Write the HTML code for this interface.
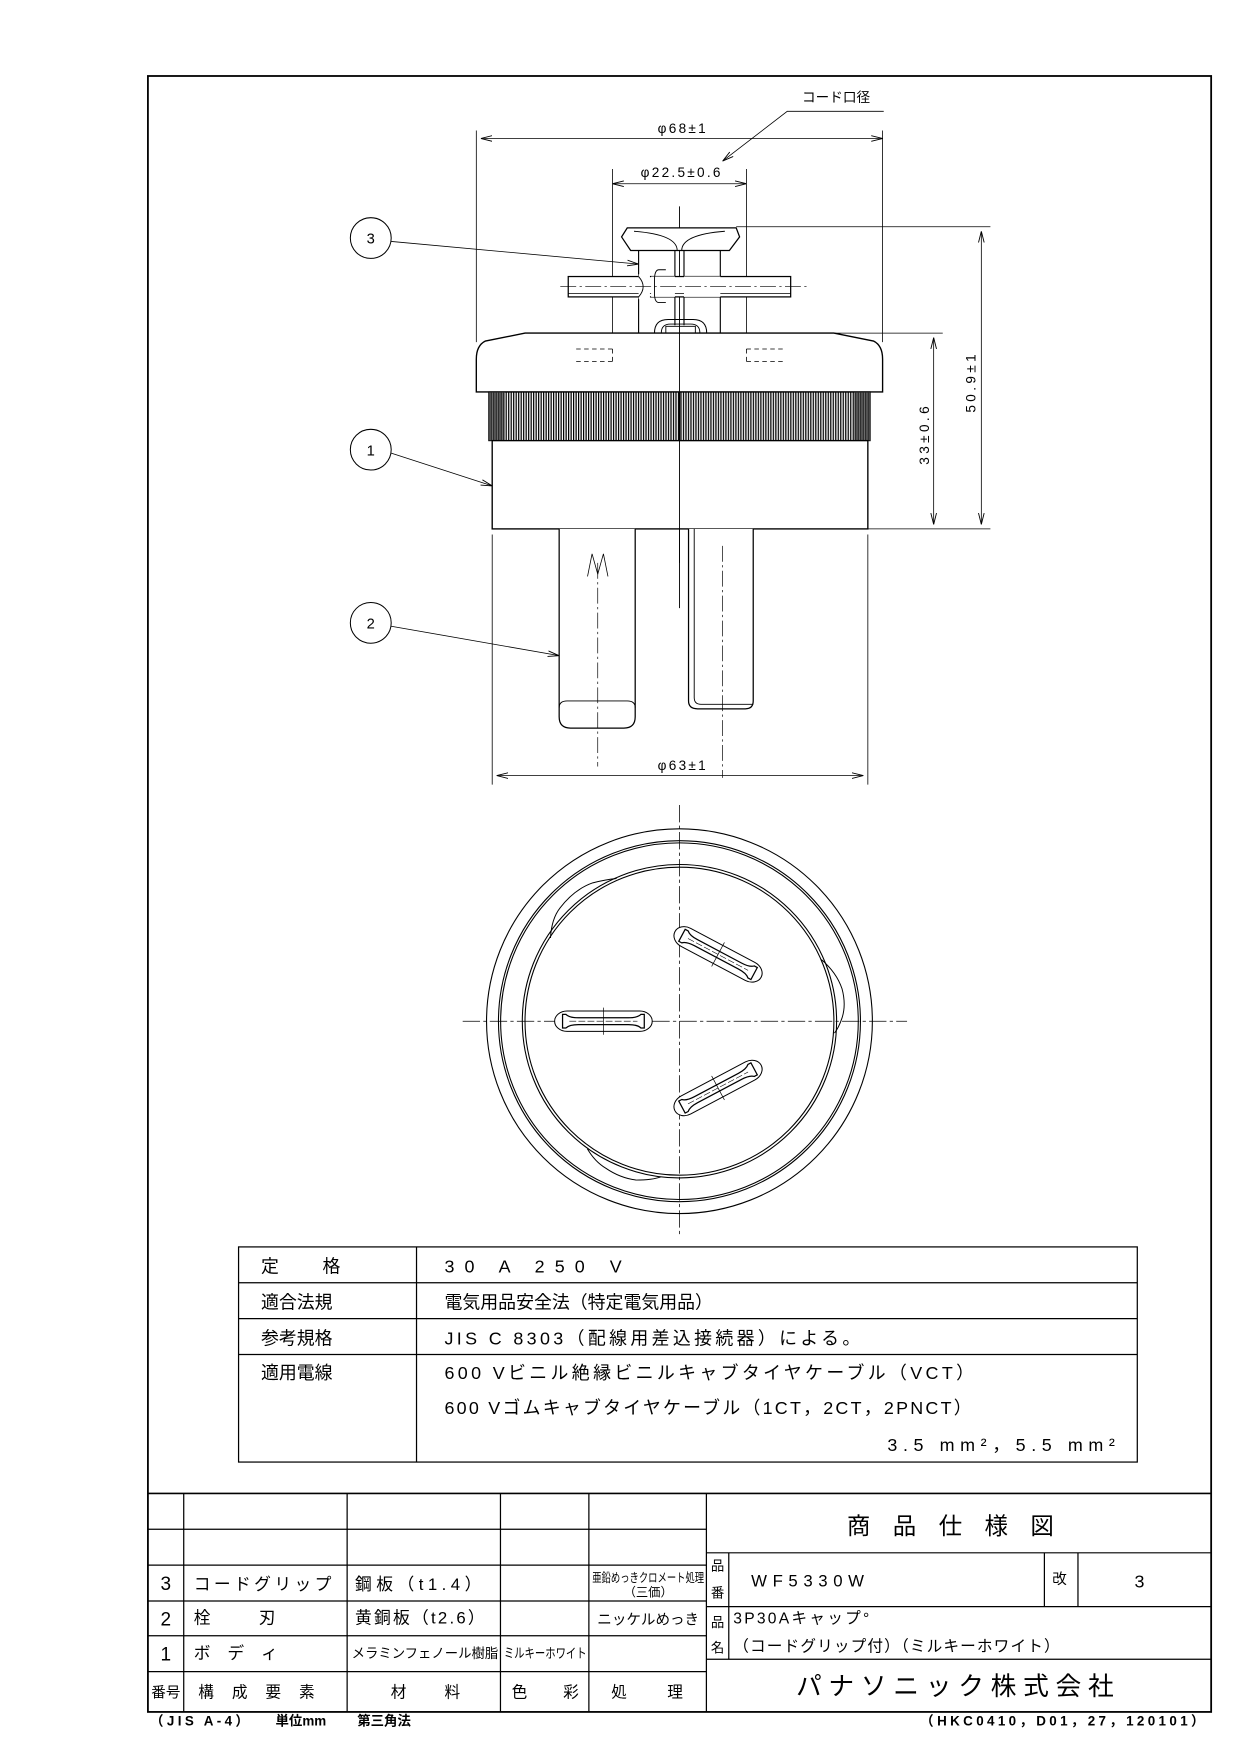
<!DOCTYPE html>
<html><head><meta charset="utf-8"><style>
html,body{margin:0;padding:0;background:#fff;}
svg{display:block}
text{font-family:"Liberation Sans","Noto Sans CJK JP",sans-serif;fill:#000}
</style></head><body>
<svg width="1241" height="1754" viewBox="0 0 1241 1754" xmlns="http://www.w3.org/2000/svg">
<defs>
<pattern id="kn" width="2.2" height="10" patternUnits="userSpaceOnUse"><rect x="0" y="0" width="1.1" height="10" fill="#000"/></pattern>
<marker id="ar" markerWidth="10" markerHeight="6" refX="10" refY="3" orient="auto" markerUnits="userSpaceOnUse"><path d="M0,0.5 L10,3 L0,5.5" fill="none" stroke="#000" stroke-width="0.8"/></marker>
<marker id="al" markerWidth="10" markerHeight="6" refX="0" refY="3" orient="auto" markerUnits="userSpaceOnUse"><path d="M10,0.5 L0,3 L10,5.5" fill="none" stroke="#000" stroke-width="0.8"/></marker>
<g id="slot" fill="none" stroke="#000">
<path d="M-32,-9 a11,9 0 0,0 0,18 L32,9 a11,9 0 0,0 0,-18 Z" fill="#fff" stroke-width="0.9"/>
<path d="M-36,-6 L-33,-6 Q-30,-3 -22,-3 L22,-3 Q30,-3 33,-6 L36,-6 L36,6 L33,6 Q30,3 22,3 L-22,3 Q-30,3 -33,6 L-36,6 Z" stroke-width="1.1"/>
<line x1="-30" y1="0" x2="30" y2="0" stroke-width="0.5" stroke-dasharray="6,2"/>
<line x1="0" y1="-12" x2="0" y2="12" stroke-width="0.6"/>
</g>
</defs>
<g transform="translate(1.3,-0.2) scale(1.1192,1.1205)" fill="none" stroke="#000" stroke-width="1">
<!-- frame -->
<rect x="131" y="68" width="950" height="1460" stroke-width="1.6"/>

<g transform="matrix(1.014 0 0 1.01 -4.5 -2.5)">
<!-- side view -->
<line x1="427" y1="125" x2="781" y2="125" stroke-width="0.7" marker-start="url(#al)" marker-end="url(#ar)"/>
<line x1="423" y1="118" x2="423" y2="305" stroke-width="0.7"/>
<line x1="781" y1="118" x2="781" y2="305" stroke-width="0.7"/>
<text x="605" y="120" font-size="12" stroke="none" text-anchor="middle" letter-spacing="2">φ68±1</text>
<text x="740" y="93" font-size="12" stroke="none" text-anchor="middle">コード口径</text>
<polyline points="782,101 697,101 640,145" stroke-width="0.7" marker-end="url(#ar)"/>
<line x1="543" y1="165" x2="661" y2="165" stroke-width="0.7" marker-start="url(#al)" marker-end="url(#ar)"/>
<line x1="543" y1="152" x2="543" y2="322" stroke-width="0.7"/>
<line x1="661" y1="152" x2="661" y2="322" stroke-width="0.7"/>
<text x="604" y="159" font-size="12" stroke="none" text-anchor="middle" letter-spacing="2">φ22.5±0.6</text>
<line x1="602" y1="185" x2="602" y2="540" stroke-width="0.8"/>
<!-- grip -->
<path d="M556,204 L652,204 L655,212 L646,224 L559,224 L551,212 Z" fill="#fff" stroke-width="1.1"/>
<path d="M562,207 Q600,210 600,224 M642,207 Q604,210 604,224" stroke-width="0.8"/>
<path d="M566,224 L566,297 M638,224 L638,297 M598,224 L598,290 M606,224 L606,290" stroke-width="1"/>
<rect x="504" y="247" width="196" height="18" fill="#fff" stroke-width="1.1"/>
<line x1="504" y1="262" x2="700" y2="262" stroke-width="0.6"/>
<rect x="566" y="245" width="10" height="22" fill="#fff" stroke="none"/>
<path d="M566,247 Q574,256 566,265 M629,247 Q625,256 629,265" stroke-width="0.8"/>
<rect x="577" y="247" width="21" height="18" fill="#fff" stroke="none"/>
<rect x="606" y="247" width="32" height="18" fill="#fff" stroke="none"/>
<path d="M590,241 L584,241 Q580,241 580,250 L580,262 Q580,270 584,270 L590,270" stroke-width="0.8"/>
<line x1="497" y1="256" x2="715" y2="256" stroke-width="0.6" stroke-dasharray="14,3,2,3"/>
<path d="M580,297 Q580,285 592,285 L614,285 Q626,285 626,297" stroke-width="0.9"/>
<path d="M586,297 Q586,289 594,289 L612,289 Q620,289 620,297" stroke-width="0.8"/>
<rect x="590" y="291" width="26" height="6" stroke-width="0.8"/>
<!-- cap -->
<path d="M466,297 L738,297 L773,304 Q781,308 781,320 L781,349 L423,349 L423,320 Q423,308 431,304 Z" fill="#fff" stroke-width="1.2"/>
<line x1="602" y1="297" x2="602" y2="349" stroke-width="0.8"/>
<g stroke-width="0.7" stroke-dasharray="4,3">
<line x1="511" y1="311" x2="543" y2="311"/><line x1="511" y1="322" x2="543" y2="322"/><line x1="543" y1="311" x2="543" y2="322"/>
<line x1="661" y1="311" x2="695" y2="311"/><line x1="661" y1="322" x2="695" y2="322"/><line x1="661" y1="311" x2="661" y2="322"/>
</g>
<!-- knurl -->
<rect x="434" y="349" width="336" height="43" fill="url(#kn)" stroke-width="1"/>
<rect x="434" y="349" width="14" height="43" fill="#333" stroke="none" opacity="0.7"/>
<rect x="756" y="349" width="14" height="43" fill="#333" stroke="none" opacity="0.7"/>
<line x1="602" y1="349" x2="602" y2="392" stroke-width="1.2"/>
<!-- body -->
<rect x="437" y="392" width="331" height="78" fill="#fff" stroke-width="1.2"/>
<line x1="602" y1="392" x2="602" y2="500" stroke-width="0.8"/>
<!-- pins -->
<path d="M496,470 L496,636 Q496,646 506,646 L553,646 Q563,646 563,636 L563,470" fill="#fff" stroke-width="1.1"/>
<path d="M496,628 Q496,622 503,622 L556,622 Q563,622 563,628" stroke-width="0.8"/>
<path d="M610,470 L610,622 Q610,629 618,629 L660,629 Q667,629 667,622 L667,470" fill="#fff" stroke-width="1.1"/>
<path d="M615,470 L615,619 Q615,625 621,625 L667,625" stroke-width="0.8"/>
<line x1="530" y1="500" x2="530" y2="680" stroke-width="0.6" stroke-dasharray="14,3,2,3"/>
<line x1="640" y1="485" x2="640" y2="690" stroke-width="0.6" stroke-dasharray="14,3,2,3"/>
<path d="M521,512 L525,492 L530,510 L535,492 L539,512" stroke-width="0.7"/>
<!-- phi63 -->
<line x1="437" y1="475" x2="437" y2="696" stroke-width="0.7"/>
<line x1="768" y1="475" x2="768" y2="696" stroke-width="0.7"/>
<line x1="441" y1="688" x2="764" y2="688" stroke-width="0.7" marker-start="url(#al)" marker-end="url(#ar)"/>
<text x="605" y="683" font-size="12" stroke="none" text-anchor="middle" letter-spacing="2">φ63±1</text>
<!-- right dims -->
<line x1="652" y1="203" x2="876" y2="203" stroke-width="0.7"/>
<line x1="738" y1="297" x2="834" y2="297" stroke-width="0.7"/>
<line x1="768" y1="470" x2="876" y2="470" stroke-width="0.7"/>
<line x1="826" y1="301" x2="826" y2="466" stroke-width="0.7" marker-start="url(#al)" marker-end="url(#ar)"/>
<line x1="868" y1="207" x2="868" y2="466" stroke-width="0.7" marker-start="url(#al)" marker-end="url(#ar)"/>
<text transform="translate(822,386) rotate(-90)" font-size="12" stroke="none" text-anchor="middle" letter-spacing="3">33±0.6</text>
<text transform="translate(863,340) rotate(-90)" font-size="12" stroke="none" text-anchor="middle" letter-spacing="3">50.9±1</text>
<!-- balloons -->
<circle cx="330" cy="213" r="18" stroke-width="0.9"/><text x="330" y="218" font-size="13" stroke="none" text-anchor="middle">3</text>
<line x1="348" y1="216" x2="566" y2="236" stroke-width="0.7" marker-end="url(#ar)"/>
<circle cx="330" cy="400" r="18" stroke-width="0.9"/><text x="330" y="405" font-size="13" stroke="none" text-anchor="middle">1</text>
<line x1="348" y1="403" x2="437" y2="432" stroke-width="0.7" marker-end="url(#ar)"/>
<circle cx="330" cy="553" r="18" stroke-width="0.9"/><text x="330" y="558" font-size="13" stroke="none" text-anchor="middle">2</text>
<line x1="348" y1="556" x2="496" y2="582" stroke-width="0.7" marker-end="url(#ar)"/>

<!-- bottom view -->
<g transform="translate(602,905) scale(0.955)">
<circle r="178" stroke-width="1"/>
<circle r="167" stroke-width="1"/><circle r="165" stroke-width="1"/>
<circle r="145" stroke-width="1"/><circle r="142.5" stroke-width="1"/>
<path d="M-119,-77 Q-118,-95 -110,-105 Q-97,-122 -80,-128 Q-68,-131 -58,-132" stroke-width="0.9"/>
<path d="M131,-57 Q145,-45 150,-30 Q154,-15 150,-3 Q147,6 143,11" stroke-width="0.9"/>
<path d="M-85,118 Q-78,130 -68,136 Q-55,145 -40,147 Q-25,147 -17,144" stroke-width="0.9"/>
<line x1="0" y1="-200" x2="0" y2="200" stroke-width="0.7" stroke-dasharray="16,3,3,3"/>
<line x1="-200" y1="0" x2="210" y2="0" stroke-width="0.7" stroke-dasharray="16,3,3,3"/>
</g>
<use href="#slot" transform="translate(535,905)"/>
<use href="#slot" transform="translate(636,846) rotate(28)"/>
<use href="#slot" transform="translate(636,964) rotate(-28)"/>
</g>

<!-- spec table -->
<g stroke-width="1.1">
<rect x="212" y="1113" width="803" height="192"/>
<line x1="371" y1="1113" x2="371" y2="1305"/>
<line x1="212" y1="1145" x2="1015" y2="1145"/>
<line x1="212" y1="1177" x2="1015" y2="1177"/>
<line x1="212" y1="1209" x2="1015" y2="1209"/>
</g>
<g stroke="none" font-size="16">
<text x="232" y="1136">定</text><text x="287" y="1136">格</text>
<text x="232" y="1168">適合法規</text>
<text x="232" y="1200">参考規格</text>
<text x="232" y="1231">適用電線</text>
<text x="396" y="1136" letter-spacing="9">30 A 250 V</text>
<text x="396" y="1168">電気用品安全法（特定電気用品）</text>
<text x="396" y="1200" letter-spacing="3">JIS C 8303（配線用差込接続器）による。</text>
<text x="396" y="1231" letter-spacing="3">600 Vビニル絶縁ビニルキャブタイヤケーブル（VCT）</text>
<text x="396" y="1262" letter-spacing="2">600 Vゴムキャブタイヤケーブル（1CT，2CT，2PNCT）</text>
<text x="1000" y="1295" text-anchor="end" letter-spacing="5">3.5 mm²，5.5 mm²</text>
</g>

<!-- title block -->
<g stroke-width="1.1">
<line x1="131" y1="1333" x2="1081" y2="1333" stroke-width="1.4"/>
<line x1="131" y1="1365" x2="630" y2="1365"/>
<line x1="131" y1="1397" x2="630" y2="1397"/>
<line x1="131" y1="1429" x2="630" y2="1429"/>
<line x1="131" y1="1460" x2="630" y2="1460"/>
<line x1="131" y1="1492" x2="630" y2="1492"/>
<line x1="163" y1="1333" x2="163" y2="1528"/>
<line x1="309" y1="1333" x2="309" y2="1528"/>
<line x1="446" y1="1333" x2="446" y2="1528"/>
<line x1="525" y1="1333" x2="525" y2="1528"/>
<line x1="630" y1="1333" x2="630" y2="1528"/>
<line x1="630" y1="1386" x2="1081" y2="1386"/>
<line x1="630" y1="1434" x2="1081" y2="1434"/>
<line x1="630" y1="1481" x2="1081" y2="1481"/>
<line x1="650" y1="1386" x2="650" y2="1481"/>
<line x1="932" y1="1386" x2="932" y2="1434"/>
<line x1="962" y1="1386" x2="962" y2="1434"/>
</g>
<g stroke="none" font-size="15">
<text x="147" y="1419" text-anchor="middle" font-size="17">3</text>
<text x="147" y="1451" text-anchor="middle" font-size="17">2</text>
<text x="147" y="1482" text-anchor="middle" font-size="17">1</text>
<text x="147" y="1515" text-anchor="middle" font-size="13">番号</text>
<text x="172" y="1419" letter-spacing="3">コードグリップ</text>
<text x="172" y="1449">栓</text><text x="230" y="1449">刃</text>
<text x="172" y="1481">ボ</text><text x="202" y="1481">デ</text><text x="232" y="1481">ィ</text>
<text x="176" y="1515" font-size="14">構</text><text x="206" y="1515" font-size="14">成</text><text x="236" y="1515" font-size="14">要</text><text x="266" y="1515" font-size="14">素</text>
<text x="316" y="1419" letter-spacing="4">鋼板（t1.4）</text>
<text x="316" y="1449" letter-spacing="2">黄銅板（t2.6）</text>
<text x="313" y="1480" font-size="12" textLength="131" lengthAdjust="spacingAndGlyphs">メラミンフェノール樹脂</text>
<text x="348" y="1515" font-size="14">材</text><text x="396" y="1515" font-size="14">料</text>
<text x="449" y="1480" font-size="12" textLength="74" lengthAdjust="spacingAndGlyphs">ミルキーホワイト</text>
<text x="456" y="1515" font-size="14">色</text><text x="502" y="1515" font-size="14">彩</text>
<text x="528" y="1412" font-size="11" textLength="100" lengthAdjust="spacingAndGlyphs">亜鉛めっきクロメート処理</text>
<text x="578" y="1425" font-size="11" text-anchor="middle">（三価）</text>
<text x="578" y="1450" font-size="13" text-anchor="middle">ニッケルめっき</text>
<text x="545" y="1515" font-size="14">処</text><text x="595" y="1515" font-size="14">理</text>
<text x="858" y="1369" text-anchor="middle" font-size="21" letter-spacing="20">商品仕様図</text>
<text x="634" y="1402" font-size="12">品</text>
<text x="634" y="1426" font-size="12">番</text>
<text x="670" y="1416" font-size="15" letter-spacing="5">WF5330W</text>
<text x="939" y="1414" font-size="13">改</text>
<text x="1017" y="1417" font-size="16" text-anchor="middle">3</text>
<text x="634" y="1452" font-size="12">品</text>
<text x="634" y="1475" font-size="12">名</text>
<text x="654" y="1449" font-size="14" letter-spacing="2">3P30Aキャップ°</text>
<text x="654" y="1474" font-size="14" letter-spacing="1">（コードグリップ付）（ミルキーホワイト）</text>
<text x="855" y="1513" text-anchor="middle" font-size="23" letter-spacing="6">パナソニック株式会社</text>
<text x="133" y="1540" font-size="12" font-weight="bold" letter-spacing="3">（JIS A-4）</text>
<text x="245" y="1540" font-size="12" font-weight="bold">単位mm</text>
<text x="318" y="1540" font-size="12" font-weight="bold">第三角法</text>
<text x="1078" y="1540" font-size="12" font-weight="bold" text-anchor="end" letter-spacing="3">（HKC0410，D01，27，120101）</text>
</g>
</g>
</svg>
</body></html>
